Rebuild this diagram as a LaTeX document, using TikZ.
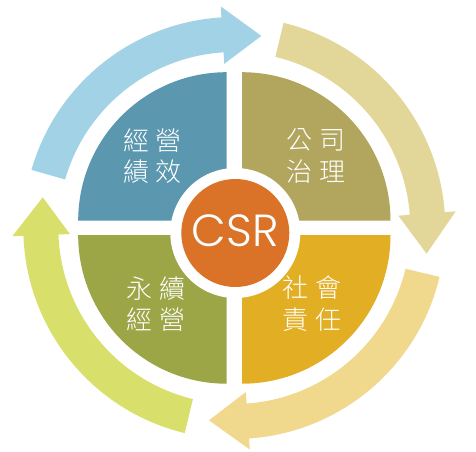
\documentclass[tikz,border=0pt]{standalone}
\usepackage{fontspec}
\newfontfamily\cjk{Noto Sans CJK TC Light}
\newfontfamily\csrfont{Poppins Light}
\definecolor{qTL}{HTML}{5B97AE}
\definecolor{qTR}{HTML}{B2A55D}
\definecolor{qBL}{HTML}{9CA646}
\definecolor{qBR}{HTML}{E2AE24}
\definecolor{csrc}{HTML}{DA7327}
\definecolor{aBlue}{HTML}{A2D2E5}
\definecolor{aTan}{HTML}{E3D699}
\definecolor{aOrange}{HTML}{F0D88D}
\definecolor{aGreen}{HTML}{D9DF6B}
\newcommand\cyclearrow[4]{%
  \fill[#4] (#1:211) arc[start angle=#1,end angle=#2,radius=211]
    -- (#2:222) -- (#3:194) -- (#2:164.5) -- (#2:176)
    arc[start angle=#2,end angle=#1,radius=176] -- cycle;}
\newcommand\twochars[2]{#1\hspace{6.5pt}#2}
\begin{document}
\begin{tikzpicture}[x=1pt,y=1pt,
  qtext/.style={text=white,font=\cjk\fontsize{26}{31.5}\selectfont,align=center,inner sep=0pt},
  csrtext/.style={text=white,font=\csrfont\fontsize{45}{45}\selectfont,inner sep=0pt}]
\useasboundingbox (0,0) rectangle (476,-451);
\fill[white] (0,0) rectangle (476,-451);
\begin{scope}[shift={(234.3,-228)}]
  % ring arrows
  \cyclearrow{164}{93.5}{82}{aBlue}
  \cyclearrow{76.5}{4.3}{-7.6}{aTan}
  \cyclearrow{-13.4}{-86}{-97.5}{aOrange}
  \cyclearrow{-103.6}{-177.9}{-189.1}{aGreen}
  % quadrants
  \fill[qTL] (-7.6,7.3) -- ++(-148.5,0) arc[start angle=180,end angle=90,radius=148.5] -- cycle;
  \fill[qTR] (7.7,7.3) -- ++(0,148.5) arc[start angle=90,end angle=0,radius=148.5] -- cycle;
  \fill[qBR] (7.7,-7.2) -- ++(148.5,0) arc[start angle=0,end angle=-90,radius=148.5] -- cycle;
  \fill[qBL] (-7.6,-7.2) -- ++(0,-148.5) arc[start angle=-90,end angle=-180,radius=148.5] -- cycle;
  % centre
  \fill[white] (1,-5) circle[radius=65];
  \node[circle,fill=csrc,minimum size=108pt,inner sep=0pt] (core) at (1,-5) {};
  \node[csrtext] (csr) at (0.7,-3) {CSR};
  % labels
  \node[qtext] (tl) at (-82,71.7) {\twochars{經}{營}\\\twochars{績}{效}};
  \node[qtext] (tr) at (81.7,72) {\twochars{公}{司}\\\twochars{治}{理}};
  \node[qtext] (bl) at (-78.5,-76.3) {\twochars{永}{續}\\\twochars{經}{營}};
  \node[qtext] (br) at (77.5,-75.5) {\twochars{社}{會}\\\twochars{責}{任}};
\end{scope}
\end{tikzpicture}
\end{document}
